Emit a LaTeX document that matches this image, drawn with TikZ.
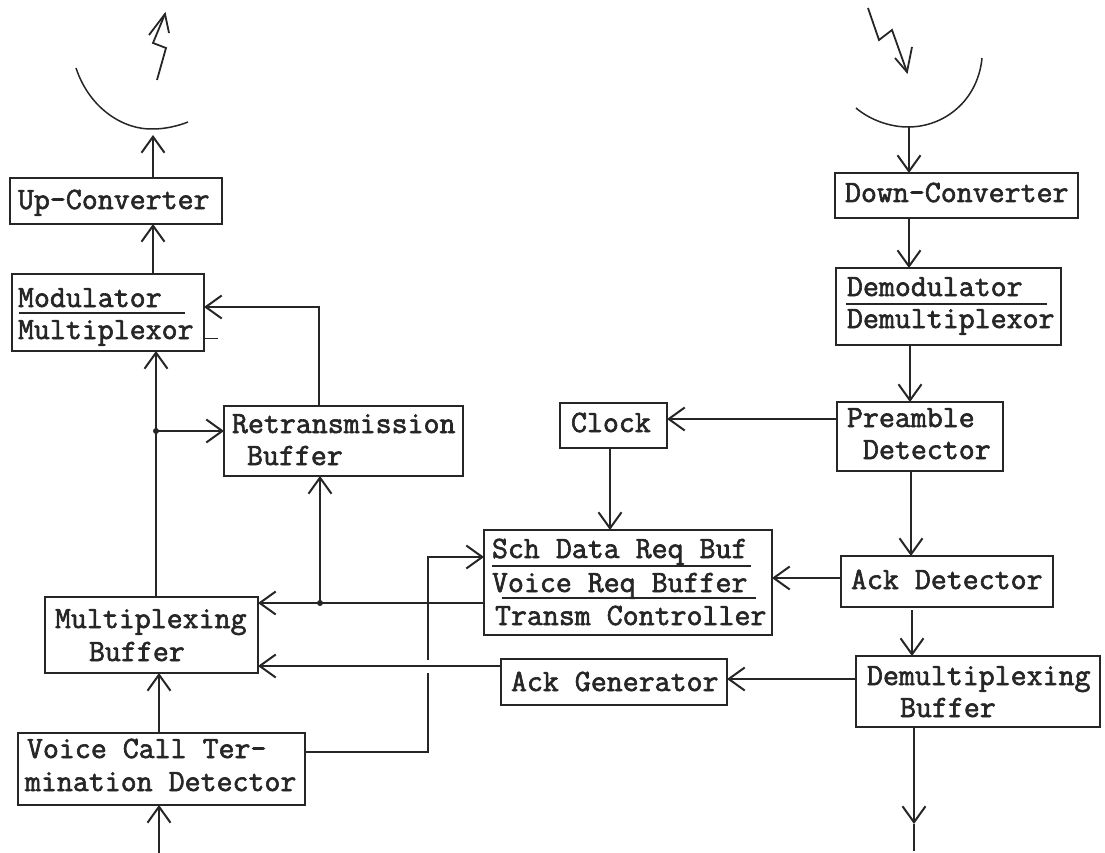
\documentclass[tikz,border=0pt]{standalone}
\usepackage{fontspec}
\newfontfamily\tw[FakeBold=2]{Latin Modern Mono}
\usetikzlibrary{arrows.meta}
\definecolor{ink}{HTML}{262626}
\tikzset{
  x=1pt,y=-1pt,
  boxst/.style={draw=ink,line width=2.2pt,rectangle,outer sep=0pt,inner sep=0pt,fill=none},
  lab/.style={anchor=base west,inner sep=0pt,outer sep=0pt,text=ink,font=\tw\fontsize{31}{33}\selectfont},
  wire/.style={draw=ink,line width=2.2pt},
  arr/.style={wire,-{Straight Barb[length=16pt,width=23pt,line width=2pt]}},
  rule/.style={draw=ink,line width=2pt},
  thin/.style={draw=ink,line width=1.5pt}
}
\newcommand{\bx}[5]{\node[boxst,minimum width=#4pt-#2pt,minimum height=#5pt-#3pt] (#1) at ({(#2+#4)/2},{(#3+#5)/2}) {};}
\newcommand{\tx}[4]{\node[lab] (#1) at (#2,#3) {#4};}
\begin{document}
\begin{tikzpicture}
\useasboundingbox (0,0) rectangle (1105,853);
% boxes
\bx{up}{10}{178}{222}{224}
\bx{mod}{12}{274}{204}{351}
\bx{ret}{224}{406}{463}{476}
\bx{mux}{45}{597}{258}{673}
\bx{vc}{18}{733}{305}{805}
\bx{clk}{560}{403}{667}{448}
\bx{pre}{837}{402}{1003}{471}
\bx{sch}{484}{530}{772}{635}
\bx{ackd}{841}{556}{1053}{607}
\bx{ackg}{501}{659}{727}{705}
\bx{dem}{856}{656}{1100}{727}
\bx{down}{835}{173}{1078}{218}
\bx{dmd}{836}{268}{1061}{345}
% labels
\tx{t1}{18}{209}{Up-Converter}
\tx{t2}{18}{307}{Modulator}
\tx{t3}{18}{339}{Multiplexor}
\tx{t4}{232}{433}{Retransmission}
\tx{t5}{247}{465}{Buffer}
\tx{t6}{55}{628}{Multiplexing}
\tx{t7}{89}{661}{Buffer}
\tx{t8}{27}{758}{Voice Call Ter-}
\tx{t9}{25}{791}{mination Detector}
\tx{t10}{571}{432}{Clock}
\tx{t11}{847}{427}{Preamble}
\tx{t12}{863}{459}{Detector}
\tx{t13}{492}{558}{Sch Data Req Buf}
\tx{t14}{492}{592}{Voice Req Buffer}
\tx{t15}{495}{625}{Transm Controller}
\tx{t16}{851}{589}{Ack Detector}
\tx{t17}{511}{691}{Ack Generator}
\tx{t18}{867}{685}{Demultiplexing}
\tx{t19}{900}{717}{Buffer}
\tx{t20}{845}{202}{Down-Converter}
\tx{t21}{847}{296}{Demodulator}
\tx{t22}{847}{328}{Demultiplexor}
% rules inside boxes
\draw[rule] (19,313) -- (185,313);
\draw[rule] (846,304) -- (1047,304);
\draw[rule] (492,566) -- (751,566);
\draw[rule] (502,598) -- (756,598);
% dishes
\draw[thin] (76,68) .. controls (90,110) and (125,130) .. (153,129) .. controls (165,129) and (178,126) .. (188,122);
\draw[thin] (856,108) .. controls (870,120) and (890,127) .. (908,127) .. controls (945,127) and (978,100) .. (982,58);
% lightning
\coordinate (ltx) at (165,14);
\coordinate (lrx) at (907,72);
\draw[wire,line width=1.8pt] (157,80) -- (166,48) -- (153,43) -- (ltx);
\draw[wire,line width=1.8pt] (149,35) -- (ltx) -- (169,33);
\draw[wire,line width=1.8pt] (868,8) -- (879,40) -- (892,30) -- (lrx);
\draw[wire,line width=1.8pt] (895,58) -- (lrx) -- (912,47);
% left column
\coordinate (txdish) at (153,135);
\coordinate (inp) at (159,853);
\coordinate (rxdish) at (909,127);
\coordinate (dot1) at (156,431);
\coordinate (dot2) at (320,603);
\draw[arr] (up.north -| txdish) -- (txdish);
\draw[arr] (mod.north -| txdish) -- (up.south -| txdish);
\draw[arr] (mux.north -| dot1) -- (mod.south -| dot1);
\draw[arr] (dot1) -- (ret.west |- dot1);
\fill[ink] (dot1) circle (3pt);
\draw[arr] (ret.north -| 319,0) |- (mod.east |- 0,307);
\draw[arr] (dot2) -- (ret.south -| dot2);
\fill[ink] (dot2) circle (3pt);
\draw[arr] (sch.west |- dot2) -- (mux.east |- dot2);
\draw[arr] (ackg.west |- 0,666) -- (mux.east |- 0,666);
\draw[arr] (vc.north -| inp) -- (mux.south -| inp);
\draw[arr] (inp) -- (vc.south -| inp);
\draw[wire] (vc.east |- 0,752) -| (428,673);
\draw[arr] (428,660) |- (sch.west |- 0,557);
\draw[thin,line width=1pt] (mod.east |- 0,338) -- (218,338);
% right column
\draw[arr] (rxdish) -- (down.north -| rxdish);
\draw[arr] (down.south -| rxdish) -- (dmd.north -| rxdish);
\draw[arr] (dmd.south -| 910,0) -- (pre.north -| 910,0);
\draw[arr] (pre.south -| 911,0) -- (ackd.north -| 911,0);
\draw[arr] (ackd.south -| 912,0) ++(0,3) -- (dem.north -| 912,0);
\draw[arr] (pre.west |- 0,419) -- (clk.east |- 0,419);
\draw[arr] (clk.south -| 610,0) -- (sch.north -| 610,0);
\draw[arr] (ackd.west |- 0,578) -- (sch.east |- 0,578);
\draw[arr] (dem.west |- 0,679) -- (ackg.east |- 0,679);
\coordinate (outm) at (914,824);
\coordinate (oute) at (914,851);
\draw[arr] (dem.south -| outm) -- (outm);
\draw[wire] (outm) -- (oute);
\end{tikzpicture}
\end{document}
